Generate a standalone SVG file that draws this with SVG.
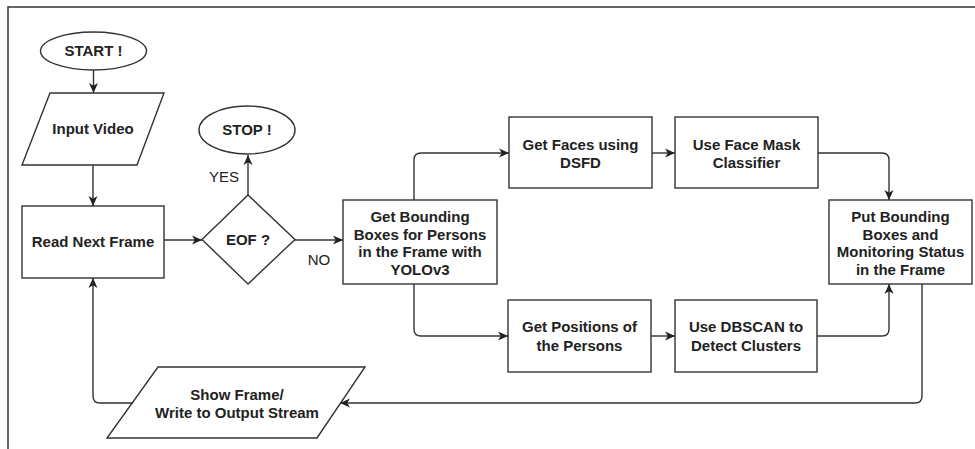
<svg xmlns="http://www.w3.org/2000/svg" width="975" height="449" viewBox="0 0 975 449">
<style>
.sh{fill:#fff;stroke:#333;stroke-width:1.4}
.t{font-family:"Liberation Sans",Arial,sans-serif;font-size:15px;font-weight:bold;fill:#222;text-anchor:middle}
.l{font-family:"Liberation Sans",Arial,sans-serif;font-size:15px;fill:#222;text-anchor:middle}
.c{fill:none;stroke:#333;stroke-width:1.4}
.fr{fill:none;stroke:#333;stroke-width:1.5}
</style>
<defs>
<marker id="ah" markerUnits="userSpaceOnUse" markerWidth="11" markerHeight="10" refX="10" refY="5" orient="auto">
<path d="M0,0.5 L10,5 L0,9.5 L2.8,5 Z" fill="#222"/>
</marker>
</defs>
<path class="fr" d="M8,449 L8,7 L975,7"/>
<g id="connectors">
<path class="c" marker-end="url(#ah)" d="M93.5,70 L93.5,93"/>
<path class="c" marker-end="url(#ah)" d="M93,165 L93,206"/>
<path class="c" marker-end="url(#ah)" d="M164,240 L202,240"/>
<path class="c" marker-end="url(#ah)" d="M248,195 L248,155"/>
<path class="c" marker-end="url(#ah)" d="M295,240 L343,240"/>
<path class="c" marker-end="url(#ah)" d="M414,200 L414,160 Q414,153 421,153 L509,153"/>
<path class="c" marker-end="url(#ah)" d="M652,153 L675,153"/>
<path class="c" marker-end="url(#ah)" d="M818,153 L882,153 Q889,153 889,160 L889,200"/>
<path class="c" marker-end="url(#ah)" d="M414,284 L414,329 Q414,336 421,336 L508,336"/>
<path class="c" marker-end="url(#ah)" d="M651,336 L675,336"/>
<path class="c" marker-end="url(#ah)" d="M817,336 L882,336 Q889,336 889,329 L889,284"/>
<path class="c" marker-end="url(#ah)" d="M922,284 L922,396 Q922,403 915,403 L340,403"/>
<path class="c" marker-end="url(#ah)" d="M132,403 L100,403 Q93,403 93,396 L93,278"/>
<text class="l" x="224" y="182">YES</text>
<text class="l" x="319" y="265">NO</text>
</g>
<g id="start">
<ellipse class="sh" cx="93.5" cy="51" rx="53" ry="19"/>
<text class="t" x="93.5" y="56">START !</text>
</g>
<g id="input">
<path class="sh" d="M50,93 L164,93 L137,165 L22,165 Z"/>
<text class="t" x="93" y="134">Input Video</text>
</g>
<g id="stop">
<ellipse class="sh" cx="247" cy="130" rx="48" ry="24"/>
<text class="t" x="247" y="135">STOP !</text>
</g>
<g id="read">
<rect class="sh" x="22" y="206" width="142" height="72"/>
<text class="t" x="93" y="247">Read Next Frame</text>
</g>
<g id="eof">
<path class="sh" d="M248,195 L295,239.5 L248,284 L202,239.5 Z"/>
<text class="t" x="248" y="245">EOF ?</text>
</g>
<g id="bounding">
<rect class="sh" x="343" y="200" width="154" height="84"/>
<text class="t" x="420" y="222">Get Bounding</text>
<text class="t" x="420" y="239.5">Boxes for Persons</text>
<text class="t" x="420" y="257">in the Frame with</text>
<text class="t" x="420" y="274.5">YOLOv3</text>
</g>
<g id="faces">
<rect class="sh" x="509" y="117" width="143" height="71"/>
<text class="t" x="580.5" y="150">Get Faces using</text>
<text class="t" x="580.5" y="168">DSFD</text>
</g>
<g id="mask">
<rect class="sh" x="675" y="117" width="143" height="71"/>
<text class="t" x="746.5" y="150">Use Face Mask</text>
<text class="t" x="746.5" y="168">Classifier</text>
</g>
<g id="put">
<rect class="sh" x="829" y="200" width="143" height="84"/>
<text class="t" x="900.5" y="222">Put Bounding</text>
<text class="t" x="900.5" y="239.5">Boxes and</text>
<text class="t" x="900.5" y="257">Monitoring Status</text>
<text class="t" x="900.5" y="274.5">in the Frame</text>
</g>
<g id="positions">
<rect class="sh" x="508" y="300" width="143" height="72"/>
<text class="t" x="579.5" y="332">Get Positions of</text>
<text class="t" x="579.5" y="351">the Persons</text>
</g>
<g id="dbscan">
<rect class="sh" x="675" y="300" width="142" height="72"/>
<text class="t" x="746" y="332">Use DBSCAN to</text>
<text class="t" x="746" y="351">Detect Clusters</text>
</g>
<g id="show">
<path class="sh" d="M158,367 L365,367 L317,438 L107,438 Z"/>
<text class="t" x="237" y="400">Show Frame/</text>
<text class="t" x="237" y="418">Write to Output Stream</text>
</g>
</svg>
